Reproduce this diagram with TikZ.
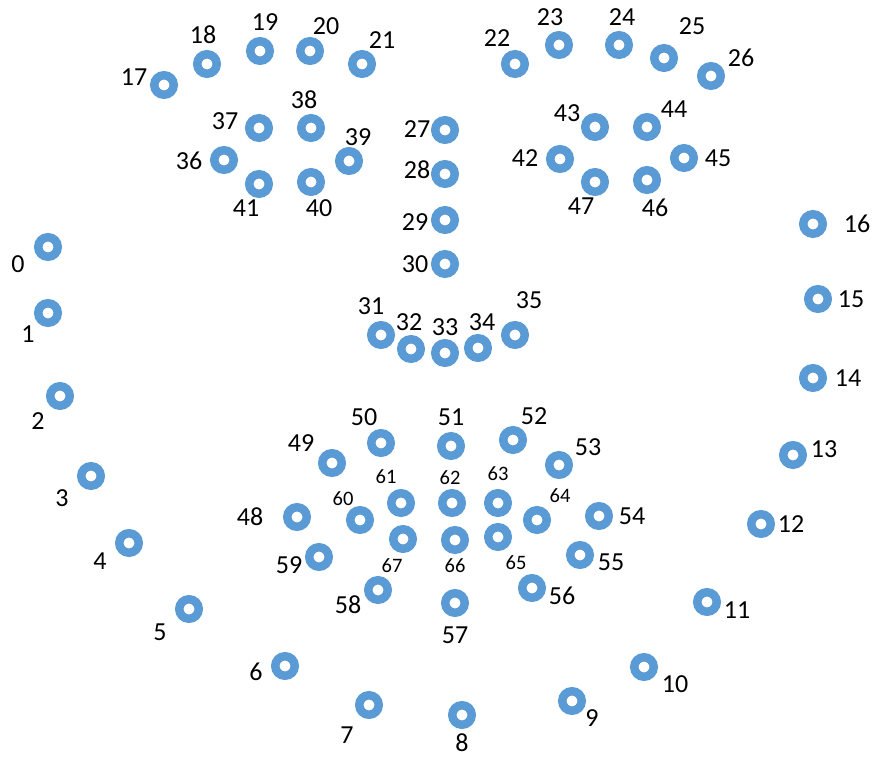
\documentclass[tikz,border=0pt]{standalone}
\usepackage{fontspec}
\setmainfont{Carlito}
\definecolor{dotblue}{HTML}{5B9BD5}
\tikzset{
  dot/.style={circle,draw=dotblue,line width=8.5pt,minimum size=19.5pt,inner sep=0pt,fill=white},
  lab/.style={font=\fontsize{26}{26}\selectfont,inner sep=0pt},
  slab/.style={font=\fontsize{20.5}{20.5}\selectfont,inner sep=0pt}
}
\begin{document}
\begin{tikzpicture}[x=1pt,y=-1pt]
\useasboundingbox (0,0) rectangle (873,757);
\foreach \n/\x/\y/\lx/\ly in {
0/48/247/18/264, 1/48/313/28/334, 2/60/396/38/421, 3/91/476/62/498,
4/129/543/100/561, 5/189/609/160/632, 6/285/666/256/672, 7/369/705/347/735,
8/462/715/462/743, 9/572/701/592/718, 10/644/667/675/684, 11/707/602/737/610,
12/761/524/791/524, 13/793/455/824/449, 14/813/378/848/378, 15/818/299/851/299,
16/813/224/857/224, 17/164/85/134/77, 18/207/64/203/35, 19/260/51/265/22,
20/310/51/326/26, 21/362/64/382/40, 22/515/64/497/38, 23/559/45/550/17,
24/619/45/622/17, 25/664/58/692/26, 26/711/76/741/58, 27/445/130/417/129,
28/445/174/417/170, 29/445/220/415/222, 30/445/264/415/264, 31/381/335/371/306,
32/411/349/409/322, 33/445/353/445/327, 34/478/348/482/322, 35/515/335/529/300,
36/224/160/189/161, 37/259/128/225/121, 38/311/128/304/100, 39/349/161/358/137,
40/311/182/319/208, 41/259/184/246/208, 42/560/159/525/158, 43/595/127/567/113,
44/647/127/674/109, 45/684/158/718/158, 46/647/180/655/208, 47/595/182/581/206,
48/297/517/250/517, 49/332/463/301/443, 50/381/443/364/417, 51/451/446/451/417,
52/513/440/534/416, 53/559/465/588/447, 54/599/516/632/516, 55/580/555/611/562,
56/532/588/562/596, 57/455/603/455/635, 58/378/590/348/605, 59/319/557/289/565}
{
  \node[dot] (p\n) at (\x,\y) {};
  \node[lab] (l\n) at (\lx,\ly) {\n};
}
\foreach \n/\x/\y/\lx/\ly in {
60/360/520/343/499, 61/401/503/386/477, 62/452/503/450/478, 63/498/503/498/474,
64/537/520/560/496, 65/498/537/516/563, 66/455/540/455/566, 67/403/539/392/566}
{
  \node[dot] (p\n) at (\x,\y) {};
  \node[slab] (l\n) at (\lx,\ly) {\n};
}
\end{tikzpicture}
\end{document}
